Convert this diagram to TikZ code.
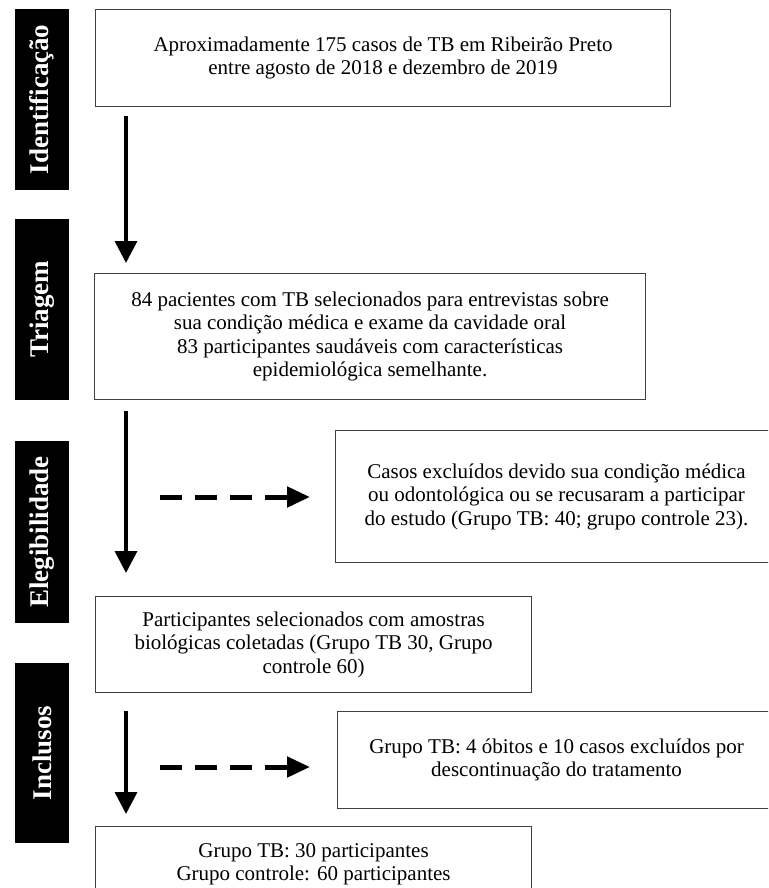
\documentclass[tikz,border=0pt]{standalone}
\usepackage{fontspec}
\setmainfont{Liberation Serif}
\usetikzlibrary{arrows.meta}

\begin{document}
\begin{tikzpicture}[x=1pt,y=-1pt]
	\tikzstyle{stage} = [fill=black, text=white, font=\fontsize{27}{30}\selectfont\bfseries, rotate=90, minimum height=54pt, inner sep=0pt]
	\tikzstyle{box} = [draw=black!75, line width=1.1pt, anchor=north west, align=center, font=\fontsize{21}{23.5}\selectfont, inner sep=0pt]
	\tikzset{flow/.style = {line width=3.5pt, -{Triangle[width=22pt,length=22pt]}}}
	\tikzset{skip/.style = {line width=5pt, dash pattern=on 22pt off 13pt, -{Triangle[width=20pt,length=23pt]}}}

	\useasboundingbox (0,0) rectangle (768,888);
	\clip (0,0) rectangle (768,888);

	% phases on the left
	\node[stage, minimum width=181pt](ident) at (42,99.5) {Identificação};
	\node[stage, minimum width=181pt](triagem) at (42,309.5) {Triagem};
	\node[stage, minimum width=182pt](eleg) at (42,532) {Elegibilidade};
	\node[stage, minimum width=180pt](incl) at (42,753) {Inclusos};

	% boxes
	\node[box, minimum width=575pt, minimum height=97pt](total) at (95,9) {Aproximadamente 175 casos de TB em Ribeirão Preto\\entre agosto de 2018 e dezembro de 2019};
	\node[box, minimum width=551pt, minimum height=126pt](triados) at (94,273) {84 pacientes com TB selecionados para entrevistas sobre\\sua condição médica e exame da cavidade oral\\83 participantes saudáveis com características\\epidemiológica semelhante.};
	\node[box, minimum width=442pt, minimum height=132pt](excl1) at (335,430) {Casos excluídos devido sua condição médica\\ou odontológica ou se recusaram a participar\\do estudo (Grupo TB: 40; grupo controle 23).};
	\node[box, minimum width=436pt, minimum height=96pt](selec) at (95,596) {Participantes selecionados com amostras\\biológicas coletadas (Grupo TB 30, Grupo\\controle 60)};
	\node[box, minimum width=438pt, minimum height=97pt](excl2) at (337,711) {Grupo TB: 4 óbitos e 10 casos excluídos por\\descontinuação do tratamento};
	\node[box, minimum width=436pt, minimum height=75pt](final) at (95,826) {Grupo TB: 30 participantes\\Grupo controle: 60 participantes};

	% arrows
	\coordinate (axis) at (126,0);
	\coordinate (d1) at (160,497);
	\coordinate (d2) at (160,767);
	\draw[flow, shorten <=9pt, shorten >=10pt](total.south -| axis) to (triados.north -| axis);
	\draw[flow, shorten <=11pt, shorten >=23pt](triados.south -| axis) to (selec.north -| axis);
	\draw[flow, shorten <=18pt, shorten >=12pt](selec.south -| axis) to (final.north -| axis);
	\draw[skip, shorten >=25pt](d1) to (d1 -| excl1.west);
	\draw[skip, shorten >=27pt](d2) to (d2 -| excl2.west);

\end{tikzpicture}
\end{document}
